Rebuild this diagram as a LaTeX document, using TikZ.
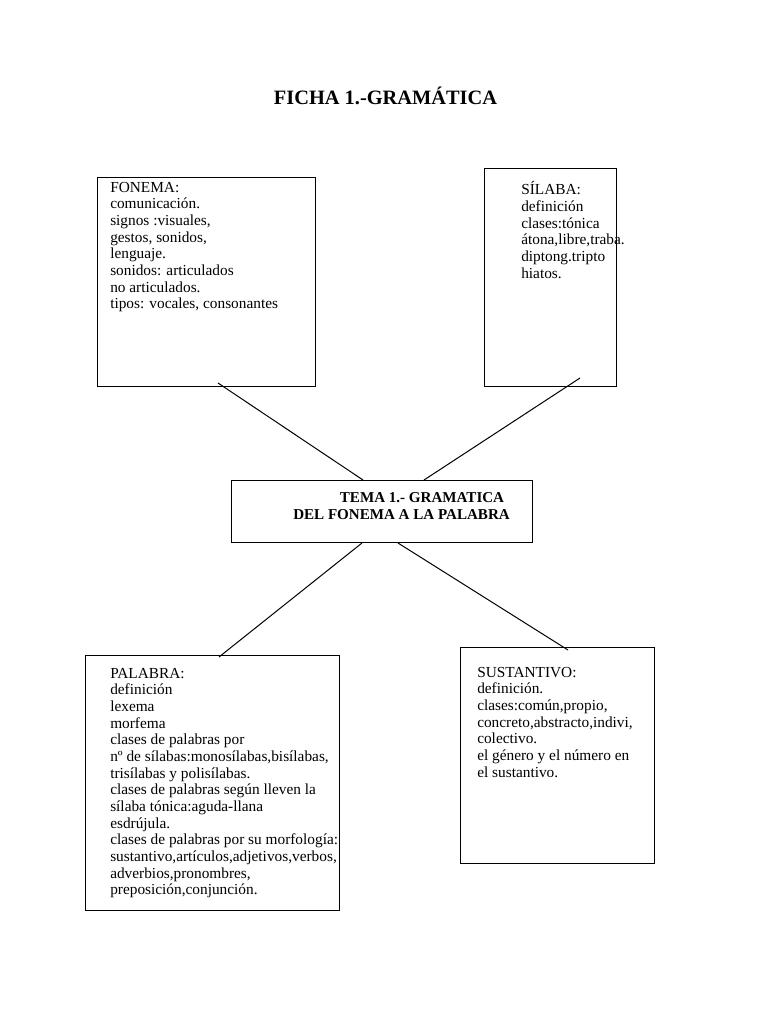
\documentclass[tikz,border=0pt]{standalone}
\usepackage{fontspec}
\setmainfont{Liberation Serif}
\usetikzlibrary{positioning, calc}
\tikzset{every node/.append style={inner sep=0pt}}

\begin{document}
\begin{tikzpicture}[
    x=0.75pt, y=-0.75pt,
    box/.style={rectangle, draw=black, line width=0.75pt, anchor=north west},
    txt/.style={font=\fontsize{11.5}{12.5}\selectfont, align=left, anchor=north west},
    hd/.style={font=\fontsize{11.3}{12.8}\selectfont\bfseries, align=left, anchor=north west},
    link/.style={line width=0.75pt, black}
]
\useasboundingbox (0,0) rectangle (768,1024);

% ===== TITLE =====
\node[font=\fontsize{15.3}{18}\selectfont\bfseries, anchor=base] (titulo) at (385.5,104)
    {FICHA 1.-GRAMÁTICA};

% ===== TOP BOXES =====
\node[box, minimum width=163.5pt, minimum height=156.75pt] (fonema) at (97,177) {};
\node[txt] (fonemaT) at ($(fonema.north west)+(13,3.3)$)
    {\strut FONEMA:\\comunicación.\\signos :visuales,\\gestos, sonidos,\\lenguaje.\\
     sonidos: articulados\\no articulados.\\tipos: vocales, consonantes};

\node[box, minimum width=99pt, minimum height=163.5pt] (silaba) at (484,168) {};
\node[txt] (silabaT) at ($(silaba.north west)+(37,13.3)$)
    {\strut SÍLABA:\\definición\\clases:tónica\\átona,libre,traba.\\diptong.tripto\\hiatos.};

% ===== CENTRE =====
\node[box, minimum width=225.75pt, minimum height=46.5pt] (tema) at (231,480) {};
\node[hd] (temaT) at ($(tema.north west)+(62,10.5)$)
    {\strut\hspace*{35pt}TEMA 1.- GRAMATICA\\DEL FONEMA A LA PALABRA};

% ===== BOTTOM BOXES =====
\node[box, minimum width=190.5pt, minimum height=191.25pt] (palabra) at (85,655) {};
\node[txt] (palabraT) at ($(palabra.north west)+(25,11.3)$)
    {\strut PALABRA:\\definición\\lexema\\morfema\\clases de palabras por\\
     nº de sílabas:monosílabas,bisílabas,\\trisílabas y polisílabas.\\
     clases de palabras según lleven la\\sílaba tónica:aguda-llana\\esdrújula.\\
     clases de palabras por su morfología:\\sustantivo,artículos,adjetivos,verbos,\\
     adverbios,pronombres,\\preposición,conjunción.};

\node[box, minimum width=145.5pt, minimum height=162pt] (sustantivo) at (460,647) {};
\node[txt] (sustantivoT) at ($(sustantivo.north west)+(17,18.3)$)
    {\strut SUSTANTIVO:\\definición.\\clases:común,propio,\\concreto,abstracto,indivi,\\
     colectivo.\\el género y el número en\\el sustantivo.};

% ===== CONNECTORS =====
\draw[link] ($(fonema.south west)+(121,-4)$) -- ($(tema.north west)+(132,0)$);
\draw[link] ($(silaba.south west)+(96,-9)$) -- ($(tema.north west)+(193,0)$);
\draw[link] ($(tema.south west)+(131,0)$) -- ($(palabra.north west)+(134,2)$);
\draw[link] ($(tema.south west)+(167,0)$) -- ($(sustantivo.north west)+(108,3)$);
\end{tikzpicture}
\end{document}
